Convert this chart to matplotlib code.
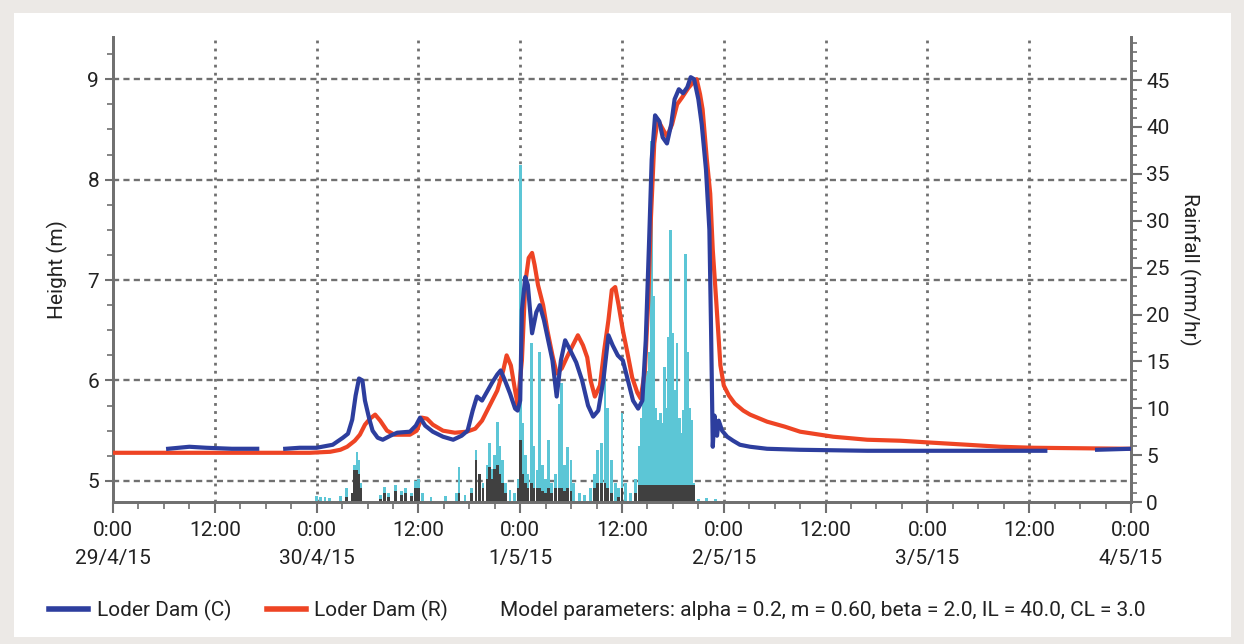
import matplotlib.pyplot as plt
from matplotlib.patches import Rectangle
from matplotlib.lines import Line2D
from matplotlib.ticker import MultipleLocator, FixedLocator

plt.rcParams['font.family'] = ['Roboto', 'DejaVu Sans']

# hours since 0:00 29/4/15
blue_hours = [6.5, 9.0, 11.0, 14.0, 17.0, None,
              20.3, 22.0, 24.0, 25.9, 27.1, 27.7, 28.2, 28.6, 29.0, 29.4, 29.7, 30.2, 30.6, 31.2,
              31.8, 32.7, 33.5, 35.0, 35.7, 36.2, 36.8, 37.7, 38.9, 40.1, 41.1, 41.8, 42.4, 42.9,
              43.5, 44.1, 44.7, 45.3, 45.7, 46.2, 46.8, 47.4, 47.7, 48.0, 48.2, 48.6, 48.9, 49.4,
              49.9, 50.3, 50.8, 51.3, 51.8, 52.3, 52.8, 53.3, 53.9, 54.6, 55.3, 56.0, 56.6, 57.2,
              57.8, 58.4, 58.9, 59.5, 60.1, 60.7, 61.3, 61.9, 62.4, 62.8, 63.2, 63.5, 63.9, 64.4,
              64.8, 65.3, 65.8, 66.2, 66.7, 67.2, 67.7, 68.1, 68.5, 69.0, 69.4, 69.9, 70.3, 70.5,
              70.7, 70.9, 71.2, 71.4, 71.8, 72.4, 73.1, 73.9, 75.1, 77.1, 81.0, 88.9, 98.7, 109.9,
              None, 116.0, 120.0]
blue_height = [5.32, 5.34, 5.33, 5.32, 5.32, None,
               5.32, 5.33, 5.33, 5.36, 5.43, 5.47, 5.61, 5.85, 6.02, 6.00, 5.80, 5.62, 5.50, 5.43,
               5.41, 5.45, 5.48, 5.49, 5.55, 5.63, 5.55, 5.49, 5.44, 5.41, 5.45, 5.50, 5.70, 5.84,
               5.80, 5.89, 5.98, 6.06, 6.10, 6.00, 5.87, 5.72, 5.70, 5.80, 6.70, 7.03, 6.95, 6.47,
               6.68, 6.75, 6.60, 6.40, 6.20, 5.84, 6.20, 6.40, 6.30, 6.18, 6.00, 5.75, 5.64, 5.70,
               6.00, 6.45, 6.35, 6.25, 6.20, 6.00, 5.80, 5.72, 5.80, 6.40, 7.40, 8.20, 8.64, 8.58,
               8.42, 8.36, 8.55, 8.80, 8.90, 8.86, 8.92, 9.02, 9.00, 8.80, 8.55, 8.10, 7.50, 6.50,
               5.34, 5.65, 5.45, 5.60, 5.50, 5.44, 5.40, 5.36, 5.34, 5.32, 5.31, 5.30, 5.30, 5.30,
               None, 5.31, 5.32]

red_hours = [0.0, 23.2, 25.6, 26.8, 27.6, 28.5, 29.1, 29.7, 30.3, 30.9, 31.5, 32.3, 33.2, 35.0,
             35.8, 36.4, 37.0, 37.7, 38.9, 40.3, 41.7, 42.7, 43.5, 44.4, 45.3, 46.0, 46.4, 46.9,
             47.4, 47.7, 48.2, 48.6, 49.0, 49.4, 49.7, 50.1, 50.7, 51.2, 51.8, 52.3, 52.9, 53.5,
             54.2, 54.8, 55.4, 55.9, 56.3, 56.8, 57.4, 57.9, 58.4, 58.8, 59.2, 59.6, 60.1, 60.7,
             61.2, 61.8, 62.2, 62.7, 63.1, 63.4, 63.8, 64.2, 64.7, 65.3, 65.9, 66.5, 67.1, 67.8,
             68.4, 68.8, 69.2, 69.5, 70.0, 70.4, 70.7, 71.1, 71.6, 72.0, 72.6, 73.3, 74.3, 75.1,
             77.1, 79.2, 81.0, 84.9, 88.9, 92.8, 96.7, 100.7, 104.6, 108.5, 120.0]
red_height = [5.28, 5.28, 5.29, 5.31, 5.34, 5.40, 5.46, 5.56, 5.62, 5.66, 5.60, 5.50, 5.46, 5.46,
              5.50, 5.63, 5.62, 5.56, 5.50, 5.48, 5.49, 5.52, 5.60, 5.75, 5.90, 6.10, 6.25, 6.15,
              5.90, 5.76, 6.20, 6.97, 7.22, 7.27, 7.15, 6.95, 6.75, 6.50, 6.25, 6.07, 6.12, 6.23,
              6.35, 6.45, 6.35, 6.23, 6.00, 5.84, 5.95, 6.30, 6.60, 6.90, 6.93, 6.75, 6.50, 6.25,
              6.03, 5.88, 5.82, 6.10, 6.80, 7.60, 8.36, 8.60, 8.52, 8.43, 8.55, 8.75, 8.82, 8.91,
              8.97, 9.00, 8.85, 8.70, 8.20, 7.86, 7.30, 6.80, 6.15, 5.95, 5.85, 5.77, 5.70, 5.66,
              5.59, 5.54, 5.49, 5.44, 5.41, 5.40, 5.38, 5.36, 5.34, 5.33, 5.32]

# rainfall gauge 1 (light blue bars), mm/hr
cyan_hours = [24.0, 24.5, 25.0, 25.5, 26.8, 27.5, 28.2, 28.5, 28.75, 29.0, 29.25,
              31.5, 32.0, 32.5, 33.3, 34.0, 34.5, 35.2, 35.7, 36.0, 36.5, 37.5, 39.2, 40.5, 40.8,
              41.5, 42.3, 42.8, 43.2, 43.6, 44.1, 44.4, 44.7, 45.0, 45.3, 45.6, 45.9, 46.3, 46.8,
              47.3, 47.8, 48.0, 48.3, 48.6, 48.9, 49.3, 49.6, 50.0, 50.3, 50.6, 51.0, 51.3, 51.7,
              52.2, 52.6, 52.9, 53.2, 53.6, 54.0, 54.3, 55.0, 55.6, 56.3, 56.8, 57.1, 57.6, 58.0,
              58.3, 58.8, 59.2, 59.6, 60.0, 60.4, 61.0, 61.6,
              62.0, 62.25, 62.5, 62.75, 63.0, 63.25, 63.5, 63.75, 64.0, 64.25, 64.5, 64.75, 65.0,
              65.25, 65.5, 65.75, 66.0, 66.25, 66.5, 66.75, 67.0, 67.25, 67.5, 67.75, 68.0, 68.25,
              68.5, 69.0, 70.0, 71.0]
cyan_mm = [0.6, 0.5, 0.5, 0.4, 0.6, 1.5, 1.0, 4.0, 5.3, 4.5, 2.0,
           0.8, 1.6, 1.0, 1.8, 1.2, 1.5, 1.0, 2.2, 2.5, 1.0, 0.5, 0.6, 1.0, 3.7,
           0.8, 1.5, 5.5, 3.0, 2.0, 4.0, 6.3, 3.5, 5.0, 8.5, 6.0, 4.5, 2.0, 1.3,
           1.0, 2.5, 36.0, 8.4, 5.0, 3.0, 17.0, 6.0, 3.4, 16.0, 4.0, 2.5, 6.6, 2.0,
           3.0, 10.5, 12.7, 4.0, 5.9, 4.5, 2.0, 1.0, 0.8, 1.5, 3.0, 5.5, 6.3, 15.5,
           10.0, 4.5, 2.0, 1.5, 9.5, 2.0, 1.0, 2.5,
           6.0, 9.0, 11.0, 17.0, 14.0, 16.0, 38.5, 22.0, 10.0, 8.7, 9.5, 8.4, 14.4,
           10.0, 17.6, 29.0, 18.0, 12.0, 17.0, 9.0, 7.4, 9.8, 26.5, 16.0, 10.0, 8.7,
           2.0, 0.3, 0.4, 0.3]

# rainfall gauge 2 (dark bars), mm/hr
dark_hours = [27.5, 28.2, 28.5, 28.75, 29.0, 29.25,
              31.5, 32.0, 32.5, 33.3, 34.0, 34.5, 35.2, 35.7, 36.0,
              40.8, 42.3, 42.8, 43.2, 43.6, 44.1, 44.4, 44.7, 45.0, 45.3, 45.6, 45.9, 46.3,
              47.8, 48.0, 48.3, 48.6, 48.9, 49.3, 49.6, 50.0, 50.3, 50.6, 51.0, 51.3, 51.7,
              52.2, 52.6, 52.9, 53.2, 53.6, 54.0,
              56.8, 57.1, 57.6, 58.0, 58.3, 58.8, 59.6, 60.0, 61.6,
              62.0, 62.25, 62.5, 62.75, 63.0, 63.25, 63.5, 63.75, 64.0, 64.25, 64.5, 64.75, 65.0,
              65.25, 65.5, 65.75, 66.0, 66.25, 66.5, 66.75, 67.0, 67.25, 67.5, 67.75, 68.0, 68.25,
              68.5]
dark_mm = [0.5, 1.0, 3.4, 3.4, 3.0, 1.5,
           0.3, 1.0, 0.5, 1.2, 0.8, 1.0, 0.6, 1.5, 1.5,
           1.0, 1.0, 4.5, 3.0, 1.5, 2.5, 3.7, 2.5, 3.5, 4.0, 3.0, 2.0, 1.0,
           1.5, 6.6, 3.0, 2.0, 1.5, 2.0, 1.5, 1.5, 1.5, 1.2, 1.0, 1.5, 1.0,
           1.5, 1.5, 1.5, 1.2, 1.5, 1.2,
           1.5, 2.0, 2.0, 2.0, 1.5, 1.0, 0.5, 1.5, 1.0,
           1.8, 1.8, 1.8, 1.8, 1.8, 1.8, 1.8, 1.8, 1.8, 1.8, 1.8, 1.8, 1.8,
           1.8, 1.8, 1.8, 1.8, 1.8, 1.8, 1.8, 1.8, 1.8, 1.8, 1.8, 1.8, 1.8,
           1.8]

x_ticks = [0, 12, 24, 36, 48, 60, 72, 84, 96, 108, 120]
x_tick_labels = ['0:00\n29/4/15', '12:00', '0:00\n30/4/15', '12:00', '0:00\n1/5/15', '12:00',
                 '0:00\n2/5/15', '12:00', '0:00\n3/5/15', '12:00', '0:00\n4/5/15']
height_ticks = [5, 6, 7, 8, 9]
rain_ticks = [0, 5, 10, 15, 20, 25, 30, 35, 40, 45]

BLUE = '#2D3E9E'
RED = '#EE4424'
CYAN = '#5CC6D6'
DARK = '#404040'
GRID = '#707070'
AXC = '#707070'
TXT = '#222222'

H_MIN, H_MAX = 4.79, 9.42
R_MIN, R_MAX = 0, 49.6

fig = plt.figure(figsize=(12.44, 6.44), dpi=100)
fig.patch.set_facecolor('#ECE9E6')
fig.patches.append(Rectangle((14 / 1244, 1 - 637 / 644), (1231 - 14) / 1244, (637 - 13) / 644,
                             transform=fig.transFigure, facecolor='white', edgecolor='none', zorder=-5))

ax_h = fig.add_axes([113 / 1244, 1 - 502 / 644, (1131 - 113) / 1244, (502 - 37) / 644])
ax_r = ax_h.twinx()
ax_h.set_zorder(2)
ax_r.set_zorder(1)
ax_h.patch.set_visible(False)
ax_r.patch.set_visible(False)

# grid sits on the rainfall axes so the bars cover it
for h in height_ticks:
    r = (h - H_MIN) / (H_MAX - H_MIN) * (R_MAX - R_MIN) + R_MIN
    ax_r.axhline(r, color=GRID, lw=1.7, ls=(0, (2.6, 1.8)), zorder=0)
for t in x_ticks[1:-1]:
    ax_r.axvline(t, color=GRID, lw=2.0, ls=(0, (1.0, 1.9)), zorder=0)

ax_r.bar(cyan_hours, cyan_mm, width=0.32, color=CYAN, edgecolor='none', zorder=1)
ax_r.bar(dark_hours, dark_mm, width=0.32, color=DARK, edgecolor='none', zorder=2)

blue_x = [float('nan') if v is None else v for v in blue_hours]
blue_y = [float('nan') if v is None else v for v in blue_height]
ax_h.plot(red_hours, red_height, color=RED, lw=3, solid_joinstyle='round', zorder=3)
ax_h.plot(blue_x, blue_y, color=BLUE, lw=3, solid_joinstyle='round', zorder=4)

ax_h.set_xlim(0, 120)
ax_h.set_ylim(H_MIN, H_MAX)
ax_r.set_ylim(R_MIN, R_MAX)

ax_h.xaxis.set_major_locator(FixedLocator(x_ticks))
ax_h.set_xticklabels(x_tick_labels, linespacing=1.55)
ax_h.xaxis.set_minor_locator(MultipleLocator(3))
ax_h.yaxis.set_major_locator(FixedLocator(height_ticks))
ax_h.yaxis.set_minor_locator(MultipleLocator(0.25))
ax_r.yaxis.set_major_locator(FixedLocator(rain_ticks))
ax_r.yaxis.set_minor_locator(MultipleLocator(1))

for a in (ax_h, ax_r):
    a.spines['top'].set_visible(False)
    for side in ('left', 'right', 'bottom'):
        a.spines[side].set_color(AXC)
        a.spines[side].set_linewidth(2)

ax_h.tick_params(axis='x', which='major', direction='out', length=8, width=1.5, color=AXC,
                 labelsize=15, pad=6, labelcolor=TXT)
ax_h.tick_params(axis='x', which='minor', direction='out', length=5, width=1.2, color=AXC)
ax_h.tick_params(axis='y', which='major', direction='out', length=6, width=1.5, color=AXC,
                 labelsize=15, pad=4, labelcolor=TXT)
ax_h.tick_params(axis='y', which='minor', direction='out', length=4, width=1.2, color=AXC)
ax_r.tick_params(axis='y', which='major', direction='out', length=8, width=1.5, color=AXC,
                 labelsize=15, pad=3, labelcolor=TXT)
ax_r.tick_params(axis='y', which='minor', direction='out', length=4, width=1.2, color=AXC)

ax_h.set_ylabel('Height (m)', fontsize=15, color=TXT, labelpad=14)
ax_r.set_ylabel('Rainfall (mm/hr)', fontsize=15, color=TXT, rotation=270, labelpad=22)

handles = [Line2D([], [], color=BLUE, lw=4), Line2D([], [], color=RED, lw=4)]
fig.legend(handles, ['Loder Dam (C)', 'Loder Dam (R)'], loc='center left',
           bbox_to_anchor=(30 / 1244, 1 - 610 / 644), ncol=2, frameon=False, fontsize=15,
           handlelength=1.9, handletextpad=0.4, columnspacing=1.7, labelcolor=TXT)
fig.text(500 / 1244, 1 - 610 / 644,
         'Model parameters: alpha = 0.2, m = 0.60, beta = 2.0, IL = 40.0, CL = 3.0',
         fontsize=15, color=TXT, va='center', ha='left')

fig.savefig('out.png', dpi=100, facecolor=fig.get_facecolor())
